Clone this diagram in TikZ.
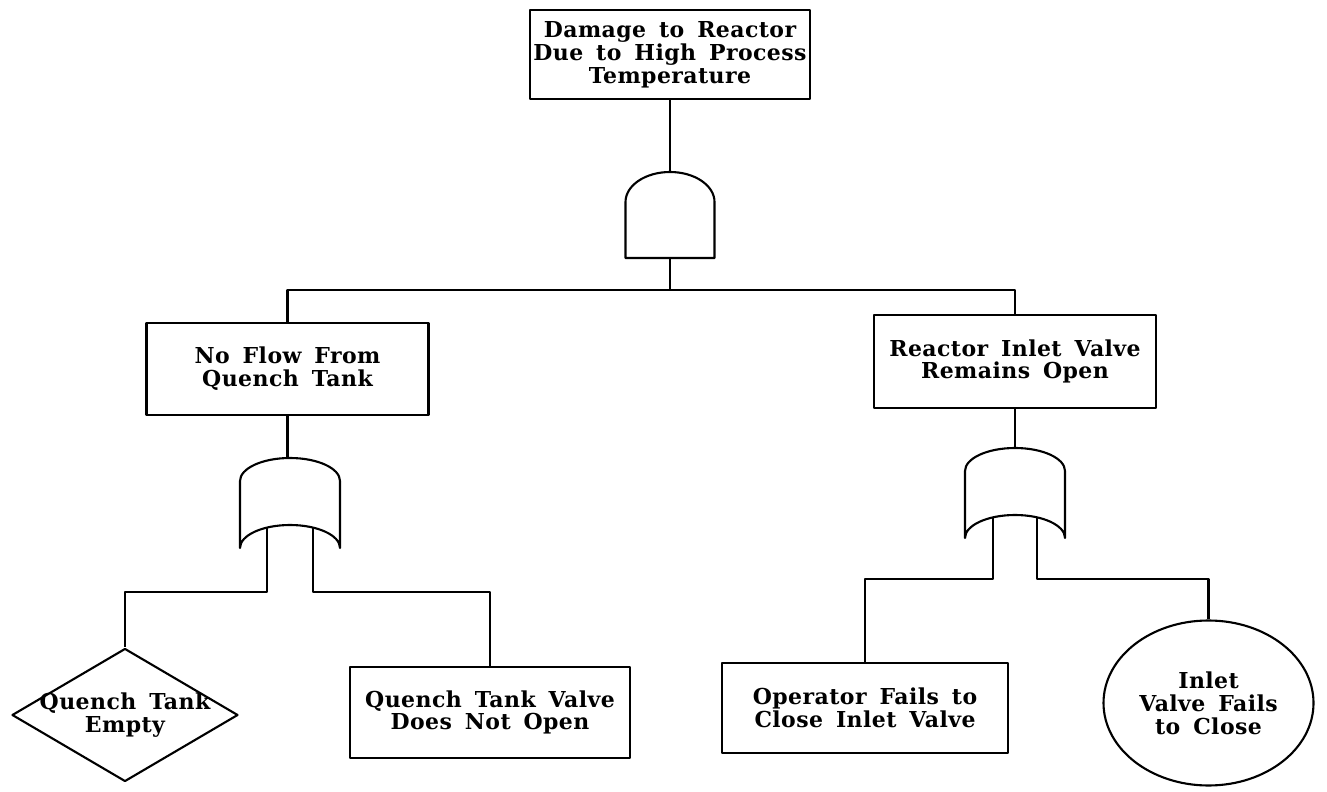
\documentclass[tikz,border=0pt]{standalone}
\usepackage{fontspec}
\setmainfont{DejaVu Serif}[LetterSpace=2, WordSpace=1.6]
\usetikzlibrary{shapes.geometric, calc}

\begin{document}
\begin{tikzpicture}[
  line width=1.2pt, line join=round,
  event/.style={draw, rectangle, align=center, inner sep=2pt,
                font=\bfseries\fontsize{12.5}{13}\selectfont},
  undeveloped/.style={event, diamond, aspect=1.7, inner sep=-3pt},
  basicevent/.style={event, ellipse},
  gatebox/.style={inner sep=0pt, outer sep=0pt, minimum width=2cm, minimum height=1.8cm},
]
\useasboundingbox (0,0) rectangle (26.54,15.82);

% Top event
\node[event, minimum width=5.6cm, minimum height=1.78cm] (top) at (13.4,14.73)
  {Damage to Reactor\\Due to High Process\\Temperature};

% AND gate
\node[gatebox, minimum width=1.78cm, minimum height=1.72cm] (and1) at (13.4,11.52) {};
\draw (and1.south west) -- ++(0,1.12)
  arc[start angle=180, end angle=0, x radius=0.89cm, y radius=0.6cm]
  -- (and1.south east) -- cycle;
\draw (top) -- (and1);

% ============ Intermediate events ============
\node[event, minimum width=5.64cm, minimum height=1.84cm] (noflow) at (5.75,8.44)
  {No Flow From\\Quench Tank};
\node[event, minimum width=5.64cm, minimum height=1.86cm] (inlet) at (20.3,8.59)
  {Reactor Inlet Valve\\Remains Open};

\coordinate (split) at (13.4,10.02);
\draw (and1.south) -- (split);
\draw (noflow.north) |- (split) -| (inlet.north);

% OR gate (left)
\node[gatebox] (or1) at (5.8,5.76) {};
\draw (or1.south west) -- ++(0,1.34)
  arc[start angle=180, end angle=0, x radius=1cm, y radius=0.46cm]
  -- (or1.south east)
  arc[start angle=0, end angle=180, x radius=1cm, y radius=0.46cm] -- cycle;
\coordinate (or1a) at ($(or1.south)+(-0.46,0.41)$);
\coordinate (or1b) at ($(or1.south)+(0.46,0.41)$);
\draw (noflow) -- (noflow |- or1.north);

% OR gate (right)
\node[gatebox] (or2) at (20.3,5.96) {};
\draw (or2.south west) -- ++(0,1.34)
  arc[start angle=180, end angle=0, x radius=1cm, y radius=0.46cm]
  -- (or2.south east)
  arc[start angle=0, end angle=180, x radius=1cm, y radius=0.46cm] -- cycle;
\coordinate (or2a) at ($(or2.south)+(-0.44,0.41)$);
\coordinate (or2b) at ($(or2.south)+(0.44,0.41)$);
\draw (inlet) -- (or2);

% ============ Basic events ============
\node[undeveloped, minimum width=4.52cm, minimum height=2.66cm] (empty) at (2.5,1.52)
  {Quench Tank\\Empty};
\node[event, minimum width=5.6cm, minimum height=1.82cm] (qvalve) at (9.8,1.57)
  {Quench Tank Valve\\Does Not Open};
\node[event, minimum width=5.72cm, minimum height=1.8cm] (operator) at (17.3,1.66)
  {Operator Fails to\\Close Inlet Valve};
\node[basicevent, minimum width=4.2cm, minimum height=3.3cm] (vfail) at (24.17,1.76)
  {Inlet\\Valve Fails\\to Close};

\coordinate (lbus) at (5.8,3.98);
\coordinate (rbus) at (20.3,4.24);
\draw (or1a) -- (or1a |- lbus) -| (empty.north);
\draw (or1b) -- (or1b |- lbus) -| (qvalve.north);
\draw (or2a) -- (or2a |- rbus) -| (operator.north);
\draw (or2b) -- (or2b |- rbus) -| (vfail.north);

\end{tikzpicture}
\end{document}
